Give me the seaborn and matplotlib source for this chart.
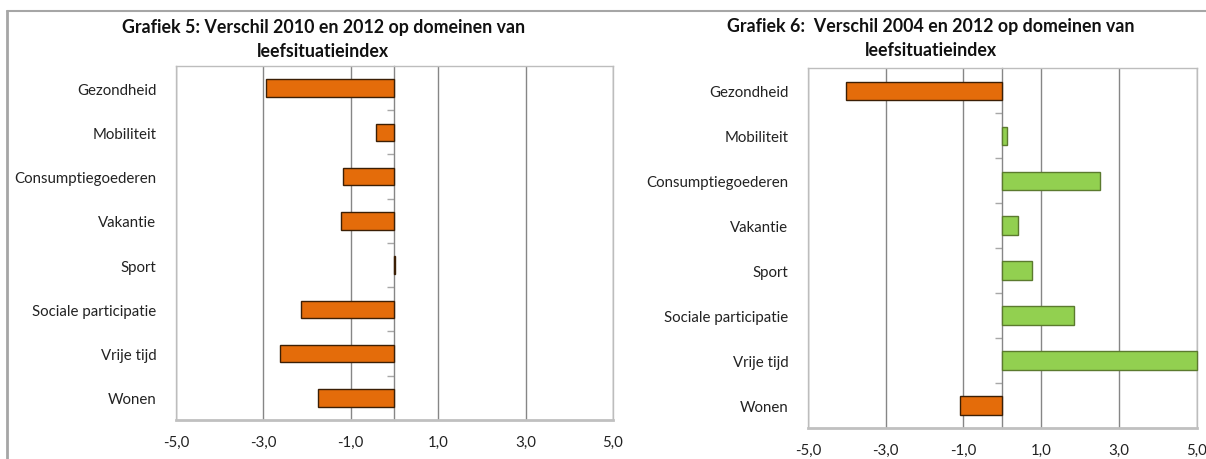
import matplotlib
matplotlib.use("Agg")
import matplotlib.pyplot as plt
import seaborn as sns
import numpy as np
import pandas as pd
from matplotlib.lines import Line2D

# Data
domeinen = ["Gezondheid", "Mobiliteit", "Consumptiegoederen", "Vakantie",
            "Sport", "Sociale participatie", "Vrije tijd", "Wonen"]
verschil_2010_2012 = [-2.95, -0.43, -1.18, -1.22, 0.02, -2.13, -2.61, -1.76]
verschil_2004_2012 = [-4.02, 0.11, 2.51, 0.40, 0.76, 1.84, 5.0, -1.10]
xticks = [-5, -3, -1, 1, 3, 5]
xtick_labels = ["-5,0", "-3,0", "-1,0", "1,0", "3,0", "5,0"]
titel_5 = "Grafiek 5: Verschil 2010 en 2012 op domeinen van\nleefsituatieindex"
titel_6 = "Grafiek 6:  Verschil 2004 en 2012 op domeinen van\nleefsituatieindex"

ORANJE, ORANJE_RAND = "#E46C0A", "#3B1F05"
GROEN, GROEN_RAND = "#92D050", "#5B7A2E"
GRIJS = "#868686"

sns.set_theme(style="white")
plt.rcParams["font.family"] = ["Lato", "DejaVu Sans"]

fig = plt.figure(figsize=(12.06, 4.6), dpi=100)
ax5 = fig.add_axes([0.1459, 0.0848, 0.3624, 0.7696])
ax6 = fig.add_axes([0.6700, 0.0674, 0.3223, 0.7819])


def teken(ax, waarden, bar_hoogte):
    df = pd.DataFrame({"domein": domeinen, "waarde": waarden})
    kleuren = [GROEN if v > 0.05 else ORANJE for v in waarden]
    sns.barplot(data=df, x="waarde", y="domein", hue="domein", palette=kleuren,
                orient="h", width=bar_hoogte, saturation=1, legend=False,
                ax=ax, zorder=3)
    for p, v in zip(ax.patches, waarden):
        p.set_edgecolor(GROEN_RAND if v > 0.05 else ORANJE_RAND)
        p.set_linewidth(1.0)
    ax.set_xlim(xticks[0], xticks[-1])
    ax.set_ylim(len(domeinen) - 0.5, -0.5)
    ax.set_xticks(xticks)
    ax.set_xticklabels(xtick_labels)
    ax.set_xlabel("")
    ax.set_ylabel("")
    ax.tick_params(axis="y", length=0, labelsize=10.8, pad=14, labelcolor="#222222")
    ax.tick_params(axis="x", length=5, width=1, color=GRIJS, direction="out",
                   labelsize=10.8, labelcolor="#222222", pad=6)
    ax.grid(axis="x", color=GRIJS, linewidth=1, zorder=0)
    ax.set_axisbelow(True)
    for kant in ["left", "top", "right"]:
        ax.spines[kant].set_color("#BDBDBD")
        ax.spines[kant].set_linewidth(1)
    ax.spines["bottom"].set_color("#C0C0C0")
    ax.spines["bottom"].set_linewidth(2)
    # nul-as met streepjes tussen de categorieen
    nul = ax.secondary_yaxis(0.5)
    nul.yaxis.set_ticks_position("left")
    nul.set_yticks(np.arange(len(domeinen) - 1) + 0.5)
    nul.set_yticklabels([])
    nul.tick_params(axis="y", length=5, width=1, color="#A8A8A8", direction="out")
    for kant in nul.spines:
        nul.spines[kant].set_color(GRIJS)
        nul.spines[kant].set_linewidth(1)


teken(ax5, verschil_2010_2012, 0.4)
teken(ax6, verschil_2004_2012, 0.41)
for p in ax6.patches:
    p.set_clip_on(False)

fig.text(0.268, 0.958, titel_5, ha="center", va="top", fontsize=12.8,
         fontweight="bold", color="#111111", linespacing=1.5)
fig.text(0.772, 0.961, titel_6, ha="center", va="top", fontsize=12.8,
         fontweight="bold", color="#111111", linespacing=1.5)

# kader van het document
fig.add_artist(Line2D([0.006, 1.0], [0.974, 0.974], color="#A6A6A6", linewidth=1.5))
fig.add_artist(Line2D([0.006, 0.006], [0.0, 0.974], color="#A6A6A6", linewidth=2))

fig.savefig("out.png", dpi=100)
